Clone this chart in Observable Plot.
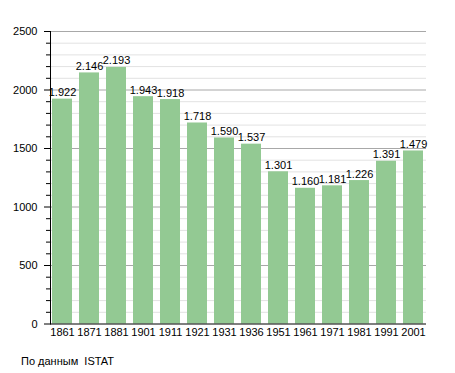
<!DOCTYPE html>
<html>
<head>
<meta charset="utf-8">
<script src="https://cdn.jsdelivr.net/npm/d3@7"></script>
<script src="https://cdn.jsdelivr.net/npm/@observablehq/plot@0.6"></script>
<style>
  body { margin: 0; background: #fff; font-family: "Liberation Sans", Arial, sans-serif; }
  #caption { position: absolute; left: 21px; top: 355px; font-size: 11px; color: #000; white-space: pre; }
</style>
</head>
<body>
<div id="chart"></div>
<div id="caption">По данным  ISTAT</div>
<script>
const years = ["1861","1871","1881","1901","1911","1921","1931","1936","1951","1961","1971","1981","1991","2001"];
const population = [1922, 2146, 2193, 1943, 1918, 1718, 1590, 1537, 1301, 1160, 1181, 1226, 1391, 1479];
const majorTicks = [0, 500, 1000, 1500, 2000, 2500];

const data = years.map((y, i) => ({year: y, value: population[i]}));
const minorTicks = d3.range(0, 2501, 100).filter(v => v % 500 !== 0);
const fmt = v => d3.format(",")(v).replace(/,/g, ".");

const chart = Plot.plot({
  width: 455,
  height: 345,
  marginLeft: 50,
  marginRight: 29,
  marginTop: 31,
  marginBottom: 21.5,
  style: {fontFamily: "Liberation Sans, Arial, sans-serif", fontSize: "11px", color: "#000", background: "#fff"},
  x: {domain: years, paddingInner: 0.25, paddingOuter: 0.02, label: null},
  y: {domain: [0, 2500], label: null},
  marks: [
    Plot.ruleY(minorTicks, {stroke: "#e2e2e2", strokeOpacity: 1}),
    Plot.ruleY(majorTicks.filter(v => v > 0), {stroke: "#a8a8a8", strokeOpacity: 1}),
    Plot.barY(data, {x: "year", y: "value", fill: "#93c993"}),
    Plot.text(data, {x: "year", y: "value", text: d => fmt(d.value), lineAnchor: "bottom", dy: -3, fill: "#000", fontSize: 11}),
    Plot.axisY(minorTicks, {tickSize: 4, text: null, stroke: "#000", strokeOpacity: 1}),
    Plot.axisY(majorTicks, {tickSize: 6, tickPadding: 7, tickFormat: d => String(d), stroke: "#000", strokeOpacity: 1, fill: "#000", fontSize: 11, label: null}),
    Plot.axisX({tickSize: 0, tickPadding: 4, fill: "#000", fontSize: 11, label: null}),
    Plot.ruleY([0], {stroke: "#000"}),
    Plot.frame({anchor: "left", stroke: "#000"})
  ]
});
document.getElementById("chart").appendChild(chart);
</script>
</body>
</html>
